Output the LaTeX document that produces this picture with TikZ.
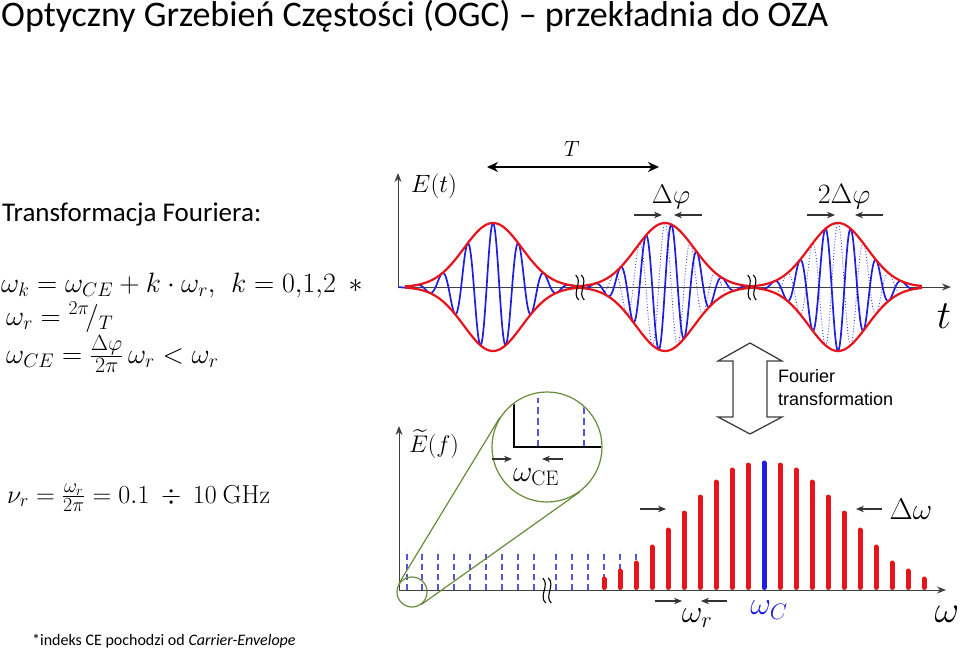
\RequirePackage{fix-cm}
\documentclass[tikz,border=0pt]{standalone}
\usepackage{amsmath}
\usepackage[no-math]{fontspec}
\setmainfont{Carlito}
\newfontfamily\arialfont{Liberation Sans}
\usetikzlibrary{arrows.meta}
\definecolor{myred}{RGB}{232,20,28}
\definecolor{myblue}{RGB}{30,30,225}
\definecolor{dashblue}{RGB}{85,85,215}
\definecolor{mygreen}{RGB}{105,140,60}
\newcommand{\fsz}[1]{\fontsize{#1}{#1}\selectfont}
\begin{document}
\begin{tikzpicture}[x=1pt,y=-1pt,
  lab/.style={inner sep=0pt},
  env/.style={draw=myred,line width=2.2pt},
  car/.style={draw=myblue,line width=1.7pt},
  refc/.style={draw=myblue!85,line width=0.9pt,dotted},
  axisline/.style={draw=black!75,line width=0.9pt,-{Stealth[length=9pt,width=7pt]}},
  darr/.style={draw=black!80,line width=1.1pt,-{Stealth[length=8pt,width=6.5pt]}},
  barr/.style={draw=myred,line width=5pt,line cap=round},
  cbar/.style={draw=myblue,line width=5pt,line cap=round},
  comb/.style={draw=dashblue,line width=1.2pt,dash pattern=on 6pt off 4pt},
  zoomc/.style={draw=mygreen,line width=1.2pt,circle,inner sep=0pt},
  brk/.style={draw=black,line width=1.1pt},
]
\useasboundingbox[fill=white] (0,0) rectangle (960,655);

% ---------- texts on the left ----------
\node[lab,anchor=base west,font=\fsz{36}] (title) at (1,27)
  {Optyczny Grzebień Częstości (OGC) -- przekładnia do OZA};
\node[lab,anchor=base west,font=\fsz{27}] (ft) at (2,221) {Transformacja Fouriera:};
\node[lab,anchor=base west,font=\fsz{28}] (eq1) at (1,292)
  {$\omega_k = \omega_{CE} + k\cdot \omega_r,\ \, k = 0{,}1{,}2\ \ {*}$};
\node[lab,anchor=base west,font=\fsz{28}] (eq2) at (6,325)
  {$\omega_r = {}^{2\pi}\!/_{T}$};
\node[lab,anchor=base west,font=\fsz{28}] (eq3) at (6,363)
  {$\omega_{CE} = \frac{\mbox{\fsz{22}$\Delta\varphi$}}{\mbox{\fsz{22}$2\pi$}}\,\omega_r < \omega_r$};
\node[lab,anchor=base west,font=\fsz{26}] (eq4) at (7,503)
  {$\nu_r = \frac{\mbox{\fsz{20}$\omega_r$}}{\mbox{\fsz{20}$2\pi$}} = 0.1\ \div\ 10\ \mathrm{GHz}$};
\node[lab,anchor=base west,font=\fsz{16}] (foot) at (32,645)
  {*indeks CE pochodzi od \textit{Carrier-Envelope}};

% ---------- time domain ----------
\coordinate (to) at (398,287);
\coordinate (ty) at (398,173);
\coordinate (tx) at (951,287);
\draw[axisline] (to) -- (ty);
\draw[axisline] (to) -- (tx);
\node[lab,font=\fsz{25}] (Et) at (434,186) {$E(t)$};
\node[lab,font=\fsz{40}] (tlab) at (944,316) {$t$};

% carrier reference (dotted)
\draw[refc] plot[domain=605:725,samples=220] (\x,{287-64*exp(-0.5*((\x-665)/29)^2)*cos(14.1176*(\x-665))});
\draw[refc] plot[domain=778:898,samples=220] (\x,{287-64*exp(-0.5*((\x-838)/29)^2)*cos(14.1176*(\x-838))});
% carriers
\draw[car] plot[domain=399:580,samples=260] (\x,{287-64*exp(-0.5*((\x-493)/29)^2)*cos(14.1176*(\x-493))});
\draw[car] plot[domain=580:752,samples=260] (\x,{287-64*exp(-0.5*((\x-665)/29)^2)*cos(14.1176*(\x-665)-90)});
\draw[car] plot[domain=752:922,samples=260] (\x,{287-64*exp(-0.5*((\x-838)/29)^2)*cos(14.1176*(\x-838)-180)});
% envelopes
\foreach \c/\a/\b in {493/405/580,665/580/752,838/752/922}{
  \draw[env] plot[domain=\a:\b,samples=120] (\x,{287-64*exp(-0.5*((\x-\c)/29)^2)});
  \draw[env] plot[domain=\a:\b,samples=120] (\x,{287+64*exp(-0.5*((\x-\c)/29)^2)});
}
% break marks
\foreach \bx in {580,752}{
  \foreach \o in {-2.8,2.8}{
    \draw[brk] (\bx+\o-1.5,275) .. controls (\bx+\o+6,282) and (\bx+\o-6,293) .. (\bx+\o+1.5,300);
  }
}
% period T
\coordinate (Ta) at (487,167);
\coordinate (Tb) at (659,167);
\draw[line width=2.6pt,{Stealth[length=11pt,width=10pt]}-{Stealth[length=11pt,width=10pt]}] (Ta) -- (Tb);
\node[lab,font=\fsz{22}] (Tl) at (572,149) {$T$};
% delta phi arrows
\coordinate (p1a) at (634,215); \coordinate (p1b) at (662,215);
\coordinate (p1c) at (702,215); \coordinate (p1d) at (674,215);
\draw[darr] (p1a) -- (p1b);
\draw[darr] (p1c) -- (p1d);
\node[lab,font=\fsz{27}] (dphi) at (671,197) {$\Delta\varphi$};
\coordinate (p2a) at (807,215); \coordinate (p2b) at (835,215);
\coordinate (p2c) at (883,215); \coordinate (p2d) at (855,215);
\draw[darr] (p2a) -- (p2b);
\draw[darr] (p2c) -- (p2d);
\node[lab,font=\fsz{28}] (ddphi) at (844,197) {$2\Delta\varphi$};

% ---------- Fourier arrow ----------
\draw[draw=black!75,line width=1.3pt,fill=white]
  (750,343) -- (782,361) -- (767,361) -- (767,417) -- (782,417) -- (750,434)
  -- (718,417) -- (733,417) -- (733,361) -- (718,361) -- cycle;
\node[lab,anchor=base west,font=\arialfont\fsz{18}] (fo1) at (778,382) {Fourier};
\node[lab,anchor=base west,font=\arialfont\fsz{18}] (fo2) at (778,405) {transformation};

% ---------- spectrum ----------
\coordinate (so) at (399,590);
\coordinate (sy) at (399,426);
\coordinate (sx) at (946,590);
% comb lines (dashed)
\foreach \dx in {407,422,438,454,470,486,502,518,534,556,572,588,604,620,636}{
  \draw[comb] (\dx,590) -- (\dx,550);
}
% red bars
\foreach \i/\top in {0/579,1/571,2/563,3/547,4/530,5/513,6/497,7/482,8/470,9/465,
                     11/465,12/470,13/482,14/497,15/513,16/530,17/547,18/563,19/571,20/579}{
  \draw[barr] (604+16*\i,587.5) -- (604+16*\i,\top);
}
\draw[cbar] (764,587.5) -- (764,463);
\draw[axisline] (so) -- (sy);
\draw[axisline] (so) -- (sx);
\node[lab,font=\fsz{24}] (Ef) at (434,444) {$\widetilde{E}(f)$};
\node[lab,font=\fsz{38}] (wlab) at (947,614) {$\omega$};
% break mark
\foreach \o in {-2.8,2.8}{
  \draw[brk] (547+\o-1.5,578) .. controls (547+\o+6,585) and (547+\o-6,596) .. (547+\o+1.5,603);
}
% delta omega
\coordinate (dwa) at (640,509); \coordinate (dwb) at (666,509);
\coordinate (dwc) at (882,509); \coordinate (dwd) at (856,509);
\draw[darr] (dwa) -- (dwb);
\draw[darr] (dwc) -- (dwd);
\node[lab,font=\fsz{30}] (dw) at (911,509) {$\Delta\omega$};
% omega r
\coordinate (wra) at (655,601); \coordinate (wrb) at (682,601);
\coordinate (wrc) at (727,601); \coordinate (wrd) at (701,601);
\draw[darr] (wra) -- (wrb);
\draw[darr] (wrc) -- (wrd);
\node[lab,font=\fsz{32}] (wr) at (697,618) {$\omega_r$};
\node[lab,font=\fsz{32},text=myblue] (wc) at (769,610) {$\omega_C$};

% ---------- zoom ----------
\node[zoomc,minimum size=30pt] (smallc) at (412,592) {};
\node[zoomc,minimum size=110pt,fill=white] (bigc) at (547,447) {};
\draw[draw=mygreen,line width=1.2pt] (smallc.148.7) -- (bigc.148.7);
\draw[draw=mygreen,line width=1.2pt] (smallc.-54.6) -- (bigc.-54.6);
\begin{scope}
  \clip (547,447) circle[radius=54pt];
  \draw[comb,dash pattern=on 7pt off 4pt] (538,447) -- (538,398);
  \draw[comb,dash pattern=on 7pt off 4pt] (584,447) -- (584,398);
  \draw[black,line width=1.2pt] (514,390) -- (514,447) -- (610,447);
\end{scope}
\coordinate (cea) at (492,459); \coordinate (ceb) at (512,459);
\coordinate (cec) at (563,459); \coordinate (ced) at (542,459);
\draw[darr] (cea) -- (ceb);
\draw[darr] (cec) -- (ced);
\node[lab,font=\fsz{30}] (wce) at (536,477) {$\omega_{\mathrm{CE}}$};
\end{tikzpicture}
\end{document}
